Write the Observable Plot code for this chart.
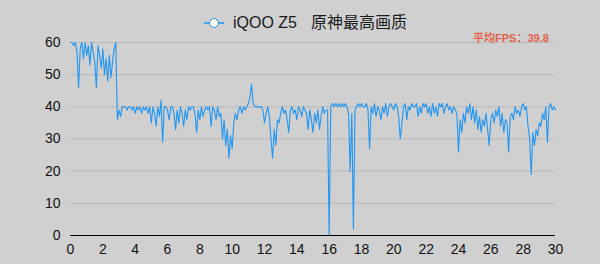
<!DOCTYPE html>
<html><head><meta charset="utf-8">
<script src="https://cdn.jsdelivr.net/npm/d3@7"></script>
<script src="https://cdn.jsdelivr.net/npm/@observablehq/plot@0.6"></script>
<style>
html,body{margin:0;padding:0;background:#d0d0d0;}
#wrap{position:relative;width:600px;height:264px;overflow:hidden;background:#d0d0d0;font-family:"Liberation Sans",Arial,"Noto Sans CJK SC",sans-serif;}
#legend{position:relative;width:600px;height:30px;}
#legend .item{position:absolute;left:204px;top:14px;display:flex;align-items:center;font-size:16px;color:#1a1a1a;line-height:18px;}
#legend svg{margin-right:9px;}
#legend .sp{display:inline-block;width:14px;}
#avg{position:absolute;left:473px;top:29px;font-size:11px;font-weight:bold;color:#e4604c;white-space:nowrap;}
#chart svg{display:block;}
</style></head>
<body>
<div id="wrap">
  <div id="legend"><div class="item"><svg width="20" height="12"><line x1="0" y1="6" x2="20" y2="6" stroke="#2196f3" stroke-width="1.5"/><circle cx="10" cy="6" r="4.5" fill="#fff" stroke="#2196f3" stroke-width="1"/></svg><span id="series"></span><span class="sp"></span><span id="title"></span></div></div>
  <div id="avg"></div>
  <div id="chart"></div>
</div>
<script>
const seriesName = "iQOO Z5";
const chartTitle = "原神最高画质";
const avgLabel = "平均FPS：39.8";
const sampleMinutes = 0.1; // one sample every 0.1 min
const xTicks = [0,2,4,6,8,10,12,14,16,18,20,22,24,26,28,30];
const yTicks = [0,10,20,30,40,50,60];
const fps = [
  60,60,59,60,57,46,58,60,55,60,56,59,53,60,57,54,46,59,56,52,58,50,55,48,56,49,54,58,60,
  36,
  39,37,40,40,40,39,40,40,39,40,38,40,39,40,38,40,39,40,38,40,35,40,38,34,40,37,42,29,
  40,40,39,36,40,40,38,33,39,35,
  40,38,34,39,36,40,39,40,40,38,
  32,39,36,40,37,39,40,39,40,34,
  40,39,36,40,37,38,30,36,28,33,
  24,31,27,35,38,36,39,40,38,40,
  39,40,41,43,47,41,40,
  40,40,40,40,39,35,38,40,37,30,
  24,33,28,36,35,38,40,38,39,36,
  32,39,40,38,39,36,40,39,37,40,
  39,38,33,39,36,32,38,35,39,33,
  37,40,38,39,39,0,
  40,41,40,41,40,41,40,41,40,41,40,38,20,38,2,39,
  40,41,40,41,40,40,41,39,27,40,
  38,41,37,40,39,36,40,38,41,37,
  40,41,40,39,41,40,37,30,35,40,
  41,36,40,39,41,40,40,41,37,40,
  38,41,40,41,
  38,40,37,41,38,40,37,41,40,41,38,40,41,39,40,38,40,39,38,26,
  36,32,38,35,40,38,41,36,40,35,
  39,33,37,32,36,34,38,33,28,36,
  38,35,39,37,40,34,38,32,36,35,
  26,37,38,36,40,38,39,37,40,41,
  39,40,34,30,19,32,28,33,31,35,
  34,38,36,40,29,40,41,39,40,39
];
document.getElementById("series").textContent = seriesName;
document.getElementById("title").textContent = chartTitle;
document.getElementById("avg").textContent = avgLabel;
const data = fps.map((v, i) => ({t: i * sampleMinutes, fps: v}));
const chart = Plot.plot({
  width: 600, height: 234,
  marginTop: 12, marginBottom: 29, marginLeft: 70, marginRight: 45,
  style: {background: "transparent", fontFamily: '"Liberation Sans", Arial, sans-serif', fontSize: "14px", color: "#111"},
  x: {domain: [0, 30], ticks: xTicks, tickSize: 0, tickPadding: 9, label: null, tickFormat: d => String(d)},
  y: {domain: [0, 60], ticks: yTicks, tickSize: 0, tickPadding: 10, label: null},
  marks: [
    Plot.ruleY(yTicks.filter(d => d > 0), {stroke: "#b9b9b9", strokeWidth: 1}),
    Plot.lineY(data, {x: "t", y: "fps", stroke: "#2196f3", strokeWidth: 1.1}),
    Plot.ruleY([0], {stroke: "#000", strokeWidth: 1.2})
  ]
});
document.getElementById("chart").appendChild(chart);
</script>
</body></html>
